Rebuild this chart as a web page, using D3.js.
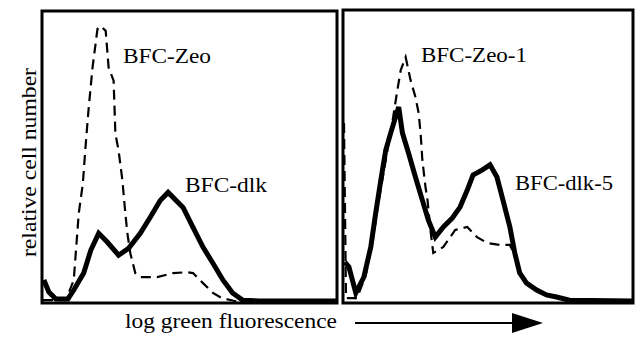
<!DOCTYPE html>
<html>
<head>
<meta charset="utf-8">
<script src="https://cdn.jsdelivr.net/npm/d3@7"></script>
<style>
  body { margin: 0; background: #fff; }
  svg { display: block; font-family: "Liberation Serif", "Times New Roman", serif; }
</style>
</head>
<body>
<div id="chart"></div>
<script>
// log green fluorescence channel (0-100) vs relative cell number (0-100)

const zeoX   = [0, 7.8, 10.5, 12.2, 13.6, 14.6, 15.6, 16.9, 18.6, 19.7, 21.4, 22.4, 24.1, 24.7, 25.8, 27.1, 28.1, 28.8, 29.8, 31.5, 33.2, 39, 44.4, 49.2, 51.2, 54.6, 58, 61, 65.4, 100];
const zeoY   = [0.3, 0.3, 7.3, 30.4, 40.8, 54.7, 67.1, 81, 94.5, 95.5, 93.8, 81, 76.5, 58.1, 52.2, 41.9, 30.4, 23.5, 16.6, 9.7, 8.3, 8.3, 9.7, 10, 9.7, 6.2, 2.8, 1, 0, 0];

const dlkX   = [0.3, 2, 4.4, 8.5, 10.5, 13.9, 16.3, 19, 22, 25.8, 29.2, 33.2, 36.6, 40, 42.7, 47.8, 51.2, 54.6, 58, 61.4, 64.7, 68.1, 73.9, 100];
const dlkY   = [7.3, 3.1, 0.7, 0.7, 3.8, 9.7, 17.6, 23.5, 20.4, 15.9, 18.3, 23.5, 29.1, 34.9, 37.7, 32.5, 25.6, 18.7, 13.1, 7.3, 2.8, 0.3, 0, 0];

const zeo1X  = [0, 0.7, 4.5, 7.6, 10, 12.1, 14.5, 16.9, 18.6, 19.7, 21.4, 23.1, 24.8, 25.9, 26.6, 27.2, 28.3, 29, 30, 31, 34.5, 38.6, 42.8, 46.2, 49.7, 54.1, 57.6, 59.3, 61, 64.5, 69.7, 74.8, 81.7, 100];
const zeo1Y  = [61.6, 1, 1, 9, 21.1, 34.9, 48.8, 62.6, 73.4, 79.9, 84.4, 76.5, 70.6, 65.1, 58.1, 48.8, 39.4, 34.9, 24.6, 16.6, 18.7, 24.6, 25.6, 22.1, 20.1, 19.4, 19.4, 15.9, 9.7, 5.2, 2.4, 1, 0, 0];

const dlk5X  = [0.3, 1.7, 4.1, 6.9, 9.3, 11, 12.8, 14.5, 16.2, 17.9, 19, 20.3, 22.4, 24.8, 27.2, 29.3, 31.7, 34.5, 37.6, 40.3, 42.8, 44.8, 47.9, 50.7, 53.1, 55.2, 57.6, 59.3, 61, 63.4, 66.9, 70.3, 73.8, 78.3, 100];
const dlk5Y  = [13.5, 11.8, 2.8, 8.3, 18.7, 30.4, 41.9, 52.2, 58.1, 63.7, 67.1, 58.1, 51.2, 42.9, 34.9, 28, 22.1, 25.6, 28.7, 32.5, 38.4, 43.6, 45.3, 47.1, 42.9, 34.9, 25.6, 16.6, 9.7, 6.2, 3.8, 2.1, 1.4, 0.3, 0];

const panelNames  = ["left", "right"];
const dashedNames = ["BFC-Zeo", "BFC-Zeo-1"];
const solidNames  = ["BFC-dlk", "BFC-dlk-5"];
const xTitle = "log green fluorescence";
const yTitle = "relative cell number";

const zip = (xs, ys) => xs.map((x, i) => ({x: x, y: ys[i]}));

const width = 638, height = 337;
const svg = d3.select("#chart").append("svg")
    .attr("width", width)
    .attr("height", height);

// panel boxes (pixels), label spots and widths
const panels = [
    {x0: 42,  x1: 337, y0: 11, y1: 303, dashed: zip(zeoX, zeoY),   solid: zip(dlkX, dlkY),
     dashLab: {x: 123, y: 63, w: 88}, solidLab: {x: 185, y: 192, w: 82}},
    {x0: 343, x1: 633, y0: 10, y1: 303, dashed: zip(zeo1X, zeo1Y), solid: zip(dlk5X, dlk5Y),
     dashLab: {x: 421, y: 62, w: 106}, solidLab: {x: 515, y: 190, w: 98}}
];

panels.forEach(function(p, i) {
    let x = d3.scaleLinear().domain([0, 100]).range([p.x0 + 1, p.x1 - 1]);
    let y = d3.scaleLinear().domain([0, 100]).range([p.y1 - 2, p.y0 + 2]);

    let g = svg.append("g").attr("class", "panel-" + panelNames[i]);

    g.append("clipPath").attr("id", "clip" + i)
        .append("rect")
        .attr("x", p.x0).attr("y", p.y0)
        .attr("width", p.x1 - p.x0).attr("height", p.y1 - p.y0);

    let line = d3.line()
        .x(d => x(d.x))
        .y(d => y(d.y));

    let plot = g.append("g").attr("clip-path", "url(#clip" + i + ")");

    plot.append("path")
        .datum(p.dashed)
        .attr("d", line)
        .attr("fill", "none")
        .attr("stroke", "#000")
        .attr("stroke-width", 2.2)
        .attr("stroke-dasharray", "10,6");

    plot.append("path")
        .datum(p.solid)
        .attr("d", line)
        .attr("fill", "none")
        .attr("stroke", "#000")
        .attr("stroke-width", 5)
        .attr("stroke-linejoin", "miter");

    // frame
    g.append("rect")
        .attr("x", p.x0).attr("y", p.y0)
        .attr("width", p.x1 - p.x0).attr("height", p.y1 - p.y0)
        .attr("fill", "none")
        .attr("stroke", "#000")
        .attr("stroke-width", 3);

    g.append("text")
        .attr("x", p.dashLab.x).attr("y", p.dashLab.y)
        .attr("font-size", 21)
        .attr("textLength", p.dashLab.w)
        .attr("lengthAdjust", "spacingAndGlyphs")
        .text(dashedNames[i]);

    g.append("text")
        .attr("x", p.solidLab.x).attr("y", p.solidLab.y)
        .attr("font-size", 21)
        .attr("textLength", p.solidLab.w)
        .attr("lengthAdjust", "spacingAndGlyphs")
        .text(solidNames[i]);
});

// axis titles
svg.append("text")
    .attr("x", 125).attr("y", 328)
    .attr("font-size", 21)
    .attr("textLength", 212)
    .attr("lengthAdjust", "spacingAndGlyphs")
    .text(xTitle);

svg.append("text")
    .attr("transform", "translate(36,68) rotate(-90)")
    .attr("x", -189)
    .attr("font-size", 21)
    .attr("textLength", 189)
    .attr("lengthAdjust", "spacingAndGlyphs")
    .text(yTitle);

// arrow
svg.append("line")
    .attr("x1", 355).attr("y1", 323)
    .attr("x2", 515).attr("y2", 323)
    .attr("stroke", "#000")
    .attr("stroke-width", 2);

svg.append("path")
    .attr("d", d3.line()([[512, 313], [543, 323], [512, 333]]) + "Z")
    .attr("fill", "#000");
</script>
</body>
</html>
